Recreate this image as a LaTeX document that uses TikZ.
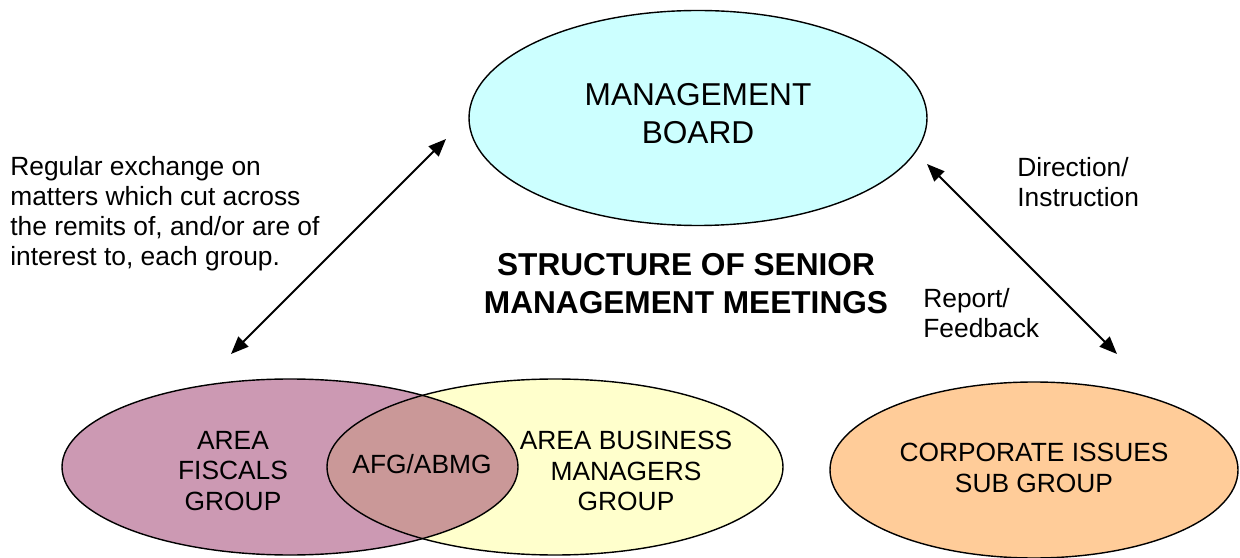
\documentclass[tikz,border=0pt]{standalone}
\usepackage{fontspec}
\setmainfont{Liberation Sans}
\usetikzlibrary{shapes,arrows.meta,positioning}

\definecolor{mbcol}{HTML}{CCFFFF}
\definecolor{afgcol}{HTML}{CC99B3}
\definecolor{abmgcol}{HTML}{FFFFCC}
\definecolor{lenscol}{HTML}{CA9898}
\definecolor{cisgcol}{HTML}{FFCC99}

\begin{document}
\begin{tikzpicture}[grp/.style={ellipse,inner sep=0pt,line width=0.8pt},
  lbl/.style={inner sep=0pt,align=center,font=\fontsize{15pt}{17.5pt}\selectfont},
  note/.style={inner sep=0pt,align=left,font=\fontsize{15pt}{17pt}\selectfont},
  link/.style={{Triangle[length=10pt,width=8pt]}-{Triangle[length=10pt,width=8pt]},line width=1.1pt}]
  \useasboundingbox (0,0) rectangle (24.8,11.14);

  \node[grp,draw,fill=mbcol,minimum width=9.16cm,minimum height=4.3cm] (mb) at (13.96,8.78) {};
  \node[lbl,font=\fontsize{18pt}{21.5pt}\selectfont] (mbtxt) at (13.96,8.86) {MANAGEMENT\\BOARD};

  \node[grp,fill=afgcol,minimum width=9.12cm,minimum height=3.52cm] (afg) at (5.8,1.8) {};
  \node[grp,fill=abmgcol,minimum width=9.12cm,minimum height=3.52cm] (abmg) at (11.1,1.8) {};
  \begin{scope}
    \clip (5.8,1.8) ellipse [x radius=4.56cm,y radius=1.76cm];
    \fill[lenscol] (11.1,1.8) ellipse [x radius=4.56cm,y radius=1.76cm];
  \end{scope}
  \draw[line width=0.8pt] (5.8,1.8) ellipse [x radius=4.56cm,y radius=1.76cm];
  \draw[line width=0.8pt] (11.1,1.8) ellipse [x radius=4.56cm,y radius=1.76cm];
  \node[grp,draw,fill=cisgcol,minimum width=8.16cm,minimum height=3.52cm] (cisg) at (20.68,1.74) {};

  \node[lbl] (afgtxt) at (4.66,1.72) {AREA\\FISCALS\\GROUP};
  \node[lbl] (abmgtxt) at (12.52,1.72) {AREA BUSINESS\\MANAGERS\\GROUP};
  \node[lbl] (lenstxt) at (8.44,1.86) {AFG/ABMG};
  \node[lbl] (cisgtxt) at (20.68,1.78) {CORPORATE ISSUES\\SUB GROUP};

  \node[lbl,font=\bfseries\fontsize{18pt}{22pt}\selectfont] (title) at (13.72,5.47) {STRUCTURE OF SENIOR\\MANAGEMENT MEETINGS};

  \node[note,anchor=west] (exch) at (0.2,6.87) {Regular exchange on\\matters which cut across\\the remits of, and/or are of\\interest to, each group.};
  \node[note,anchor=west] (dir) at (20.34,7.49) {Direction/\\Instruction};
  \node[note,anchor=west] (rep) at (18.46,4.88) {Report/\\Feedback};

  \coordinate (mbL) at (8.92,8.36);
  \coordinate (grpL) at (4.62,4.06);
  \coordinate (mbR) at (18.54,7.86);
  \coordinate (grpR) at (22.34,4.06);
  \draw[link] (grpL) -- (mbL);
  \draw[link] (mbR) -- (grpR);
\end{tikzpicture}
\end{document}
